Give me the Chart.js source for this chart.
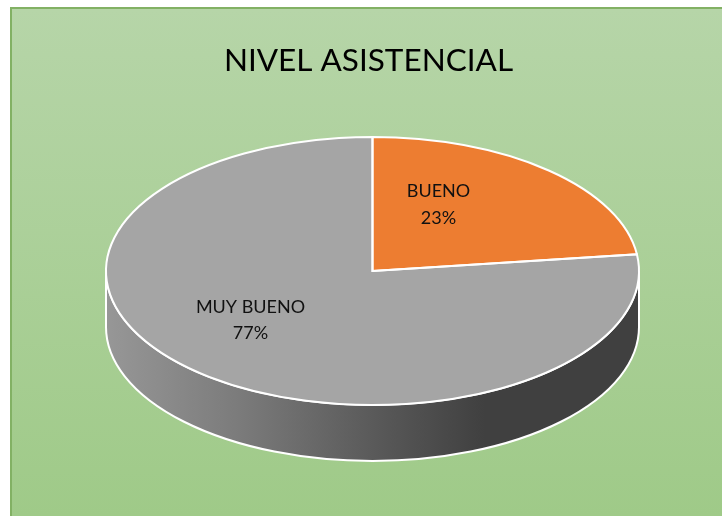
<!DOCTYPE html>
<html><head><meta charset="utf-8">
<style>
html,body{margin:0;padding:0;background:#fff;width:722px;height:516px;overflow:hidden}
#frame{position:absolute;left:10px;top:7px;width:712px;height:509px;box-sizing:border-box;border-left:2px solid #82b164;border-top:2px solid #82b164;background:linear-gradient(180deg,#b6d5a8 0%,#9fca88 100%)}
#c{position:absolute;left:0;top:0}
</style>
<script src="https://cdn.jsdelivr.net/npm/chart.js@4"></script>
</head><body>
<div id="frame"></div>
<canvas id="c" width="722" height="516"></canvas>
<script>
const categories = ['BUENO', 'MUY BUENO'];
const seriesValues = [23, 77];
const sliceColors = ['#ed7d31', '#a5a5a5'];
const chartTitle = 'NIVEL ASISTENCIAL';

const RADIUS = 266.5, SQUASH = 134 / 266.5, DEPTH = 56;
const LABEL_OFFSETS = [[66, -80, 27], [-122, 36, 26]];

function squash(ctx, el) {
  ctx.translate(el.x, el.y);
  ctx.scale(1, SQUASH);
  ctx.translate(-el.x, -el.y);
}

const pie3d = {
  id: 'pie3d',
  afterLayout(chart) {
    chart.titleBlock.left -= 4;
    chart.titleBlock.right -= 4;
  },
  beforeDatasetsDraw(chart) {
    const ctx = chart.ctx, el = chart.getDatasetMeta(0).data[0];
    const x = el.x, y = el.y, r = el.outerRadius, ry = r * SQUASH;
    ctx.save();
    const g = ctx.createLinearGradient(x - r, 0, x + r, 0);
    g.addColorStop(0, '#979797');
    g.addColorStop(0.25, '#7b7b7b');
    g.addColorStop(0.5, '#5a5a5a');
    g.addColorStop(0.71, '#404040');
    g.addColorStop(1, '#404040');
    ctx.beginPath();
    ctx.moveTo(x - r, y);
    ctx.lineTo(x - r, y + DEPTH);
    ctx.ellipse(x, y + DEPTH, r, ry, 0, Math.PI, 0, true);
    ctx.lineTo(x + r, y);
    ctx.ellipse(x, y, r, ry, 0, 0, Math.PI, false);
    ctx.closePath();
    ctx.fillStyle = g;
    ctx.fill();
    ctx.strokeStyle = '#ffffff';
    ctx.lineWidth = 2;
    ctx.stroke();
    ctx.restore();
    ctx.save();
    squash(ctx, el);
  },
  afterDatasetsDraw(chart) {
    const ctx = chart.ctx, meta = chart.getDatasetMeta(0);
    ctx.restore();
    meta.data.forEach((el) => {
      ctx.save();
      ctx.beginPath();
      ctx.save();
      squash(ctx, el);
      ctx.moveTo(el.x, el.y);
      ctx.arc(el.x, el.y, el.outerRadius, el.startAngle, el.endAngle);
      ctx.closePath();
      ctx.restore();
      ctx.strokeStyle = '#ffffff';
      ctx.lineWidth = 2;
      ctx.lineJoin = 'miter';
      ctx.stroke();
      ctx.restore();
    });
    const total = seriesValues.reduce((a, b) => a + b, 0);
    ctx.save();
    ctx.fillStyle = '#111111';
    ctx.font = '18px Lato, Carlito, sans-serif';
    ctx.textAlign = 'center';
    ctx.textBaseline = 'middle';
    meta.data.forEach((el, i) => {
      const o = LABEL_OFFSETS[i];
      const lx = el.x + o[0], ly = el.y + o[1];
      ctx.fillText(categories[i], lx, ly);
      ctx.fillText(Math.round(seriesValues[i] / total * 100) + '%', lx, ly + o[2]);
    });
    ctx.restore();
  }
};

new Chart(document.getElementById('c'), {
  type: 'pie',
  data: {
    labels: categories,
    datasets: [{
      data: seriesValues,
      backgroundColor: sliceColors,
      borderWidth: 0,
      radius: RADIUS,
      clip: false
    }]
  },
  options: {
    responsive: false,
    animation: false,
    layout: { padding: { left: 23, right: 0, top: 0, bottom: 58.2 } },
    plugins: {
      legend: { display: false },
      tooltip: { enabled: false },
      title: {
        display: true,
        text: chartTitle,
        color: '#000000',
        font: { family: 'Lato, Carlito, sans-serif', size: 31.5, weight: 'normal', lineHeight: 1.2 },
        padding: { top: 42, bottom: 4.4 }
      }
    }
  },
  plugins: [pie3d]
});
</script>
</body></html>
